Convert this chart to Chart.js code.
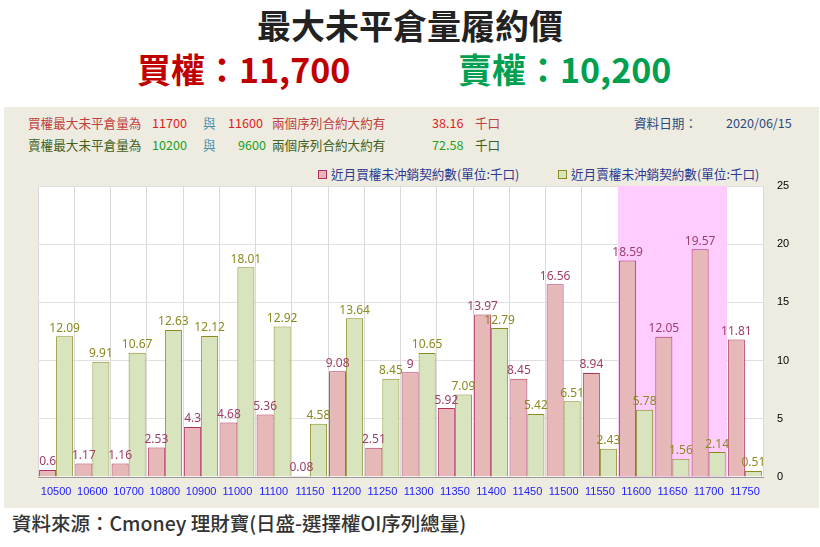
<!DOCTYPE html>
<html><head><meta charset="utf-8">
<script src="https://cdn.jsdelivr.net/npm/chart.js@4"></script>
<style>
body{margin:0;width:820px;height:547px;background:#fff;font-family:"Noto Sans CJK TC","Noto Sans",sans-serif;position:relative;overflow:hidden}
.t{position:absolute;white-space:nowrap}
#panel{position:absolute;left:4px;top:107px;width:815px;height:401px;background:#eeece1}
.s{font-size:12.6px}
</style></head><body>
<div class="t" style="left:0;width:820px;text-align:center;top:0px;font-size:34px;font-weight:bold;color:#222">最大未平倉量履約價</div>
<div class="t" style="left:137px;top:44px;font-size:34px;font-weight:bold;color:#c00000">買權：11,700</div>
<div class="t" style="left:458px;top:44px;font-size:34px;font-weight:bold;color:#00a050">賣權：10,200</div>
<div id="panel"></div>
<div class="t s" style="left:28px;top:113px;color:#c04040">買權最大未平倉量為</div>
<div class="t s" style="left:152px;top:113px;color:#e02020">11700</div>
<div class="t s" style="left:203px;top:113px;color:#4a90b0">與</div>
<div class="t s" style="left:228px;top:113px;color:#e02020">11600</div>
<div class="t s" style="left:272px;top:113px;color:#c04040">兩個序列合約大約有</div>
<div class="t s" style="left:432px;top:113px;color:#e02020">38.16</div>
<div class="t s" style="left:475px;top:113px;color:#c04040">千口</div>
<div class="t s" style="left:634px;top:113px;color:#2a4a80">資料日期：</div>
<div class="t s" style="left:726px;top:113px;color:#2a4a80">2020/06/15</div>
<div class="t s" style="left:28px;top:135px;color:#406020">賣權最大未平倉量為</div>
<div class="t s" style="left:152px;top:135px;color:#20a020">10200</div>
<div class="t s" style="left:203px;top:135px;color:#4a90b0">與</div>
<div class="t s" style="left:238px;top:135px;color:#20a020">9600</div>
<div class="t s" style="left:272px;top:135px;color:#406020">兩個序列合約大約有</div>
<div class="t s" style="left:432px;top:135px;color:#20a020">72.58</div>
<div class="t s" style="left:475px;top:135px;color:#406020">千口</div>
<div class="t s" style="left:318px;top:164px;color:#2a3a90"><span style="display:inline-block;width:7px;height:7px;border:1px solid #b03060;background:#e8b8b8;margin-right:4px"></span>近月買權未沖銷契約數(單位:千口)</div>
<div class="t s" style="left:558px;top:164px;color:#2a3a90"><span style="display:inline-block;width:7px;height:7px;border:1px solid #8a8a20;background:#d8e4bc;margin-right:4px"></span>近月賣權未沖銷契約數(單位:千口)</div>
<div class="t" style="left:12px;top:508px;font-size:19.5px;font-weight:500;color:#333">資料來源：Cmoney 理財寶(日盛-選擇權OI序列總量)</div>
<div style="position:absolute;left:5px;top:160px;width:813px;height:345px"><canvas id="c"></canvas></div>
<script>
const categories=["10500","10600","10700","10800","10900","11000","11100","11150","11200","11250","11300","11350","11400","11450","11500","11550","11600","11650","11700","11750"];
const callOI=[0.6,1.17,1.16,2.53,4.3,4.68,5.36,0.08,9.08,2.51,9,5.92,13.97,8.45,16.56,8.94,18.59,12.05,19.57,11.81];
const putOI=[12.09,9.91,10.67,12.63,12.12,18.01,12.92,4.58,13.64,8.45,10.65,7.09,12.79,5.42,6.51,2.43,5.78,1.56,2.14,0.51];
const yTicks=[0,5,10,15,20,25];
const highlight=["11600","11700"];
const bg={id:'bg',beforeDatasetsDraw(ch){const {ctx,chartArea:a,scales:{x}}=ch;
 const w=x.getPixelForValue(1)-x.getPixelForValue(0);
 const i0=categories.indexOf(highlight[0]),i1=categories.indexOf(highlight[1]);
 ctx.save();ctx.fillStyle='#ffccff';ctx.fillRect(x.getPixelForValue(i0)-w/2,a.top,(i1-i0+1)*w,a.bottom-a.top);ctx.restore();},
 beforeDraw(ch){const {ctx,chartArea:a}=ch;ctx.save();ctx.fillStyle='#fff';ctx.fillRect(a.left,a.top,a.right-a.left,a.bottom-a.top);ctx.restore();}};
const lbl={id:'lbl',afterDatasetsDraw(ch){const ctx=ch.ctx;ctx.save();ctx.font='12px "Noto Sans","DejaVu Sans",sans-serif';ctx.textAlign='center';ctx.textBaseline='bottom';
 ch.data.datasets.forEach((d,di)=>{ctx.fillStyle=di==0?'#a0406a':'#8a8a20';ch.getDatasetMeta(di).data.forEach((b,i)=>{ctx.fillText(String(d.data[i]),b.x,b.y-2);});});ctx.restore();}};
new Chart(document.getElementById('c'),{type:'bar',
 data:{labels:categories,datasets:[
  {data:callOI,backgroundColor:'#e6b9b8',borderColor:'#b03060',borderWidth:1,categoryPercentage:0.94,barPercentage:1},
  {data:putOI,backgroundColor:'#d7e4bd',borderColor:'#8a8a20',borderWidth:1,categoryPercentage:0.94,barPercentage:1}]},
 options:{responsive:true,maintainAspectRatio:false,animation:false,
  layout:{padding:{left:33,top:26,right:0,bottom:0}},
  plugins:{legend:{display:false},tooltip:{enabled:false}},
  scales:{x:{grid:{offset:true,color:'#d9d9d9',drawTicks:false},border:{color:'#999'},
     ticks:{color:'#2020ff',font:{size:11},padding:8,maxRotation:0,autoSkip:false},afterFit(s){s.height=28;}},
   y:{position:'right',min:0,max:25,afterBuildTicks(s){s.ticks=yTicks.map(v=>({value:v}));},
     grid:{color:'#e0e0e0',drawTicks:false},border:{display:false},
     ticks:{color:'#000',font:{size:11},padding:14},afterFit(s){s.width=55;}}}},
 plugins:[bg,lbl]});
</script></body></html>
